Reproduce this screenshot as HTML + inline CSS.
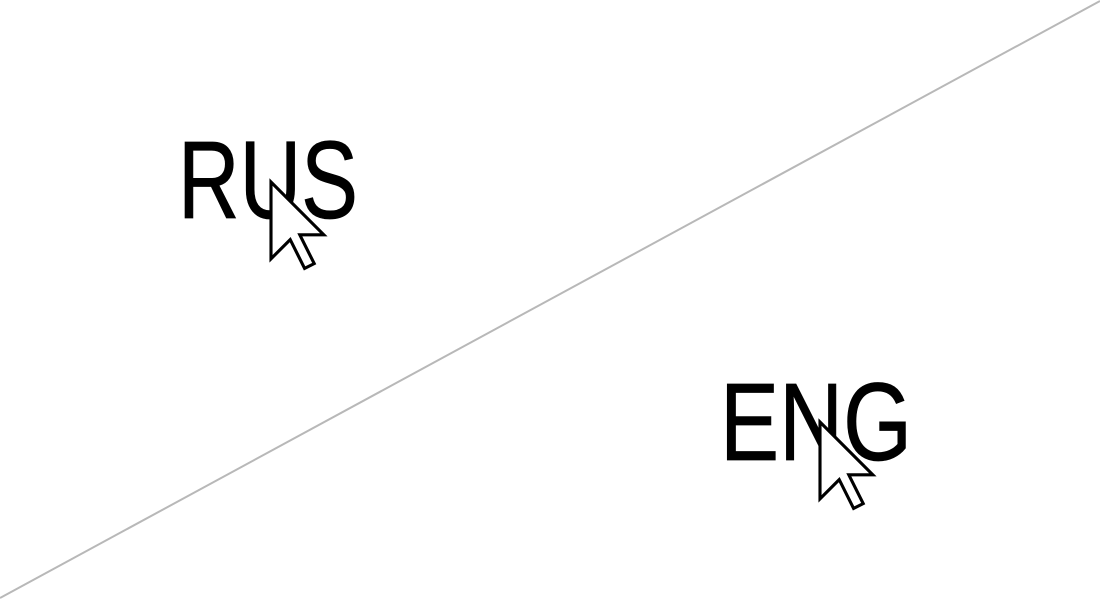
<!DOCTYPE html>
<html>
<head>
<meta charset="utf-8">
<style>
  html, body { margin: 0; padding: 0; background: #ffffff; }
  svg { display: block; }
</style>
</head>
<body>
<svg width="1100" height="600" viewBox="0 0 1100 600" xmlns="http://www.w3.org/2000/svg">
  <rect x="0" y="0" width="1100" height="600" fill="#ffffff"/>
  <line x1="0" y1="598" x2="1100" y2="1" stroke="#b8b8b8" stroke-width="2"/>

  <text x="178" y="218" font-family="Liberation Sans, DejaVu Sans, sans-serif" font-size="110" fill="#000" stroke="#000" stroke-width="0.8" textLength="180" lengthAdjust="spacingAndGlyphs">RUS</text>
  <text x="720" y="460" font-family="Liberation Sans, DejaVu Sans, sans-serif" font-size="110" fill="#000" stroke="#000" stroke-width="0.8" textLength="192" lengthAdjust="spacingAndGlyphs">ENG</text>

  <g transform="translate(271,182) scale(4.8)">
    <polygon points="0,0 0,16 4,12 7,18 9,17 6,11 11,11" fill="#fff" stroke="#000" stroke-width="0.65" stroke-linejoin="miter"/>
  </g>
  <g transform="translate(820,422) scale(4.8)">
    <polygon points="0,0 0,16 4,12 7,18 9,17 6,11 11,11" fill="#fff" stroke="#000" stroke-width="0.65" stroke-linejoin="miter"/>
  </g>
</svg>
</body>
</html>
